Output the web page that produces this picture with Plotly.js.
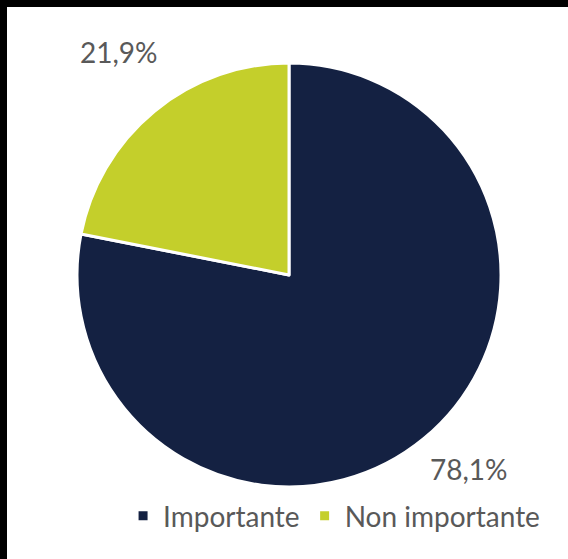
<!DOCTYPE html>
<html>
<head>
<meta charset="utf-8">
<script src="https://cdn.plot.ly/plotly-3.0.1.min.js"></script>
<style>
html, body { margin: 0; padding: 0; background: #000; width: 568px; height: 559px; overflow: hidden; }
#chart { position: absolute; left: 7px; top: 7px; width: 561px; height: 552px; background: #fff; }
</style>
</head>
<body>
<div id="chart"></div>
<script>
const categories = ["Importante", "Non importante"];
const values = [78.1, 21.9];
const colors = ["#142142", "#c4cf2b"];

function fmt(v) { return v.toFixed(1).replace('.', ',') + '%'; }

const trace = {
  type: 'pie',
  labels: categories,
  values: values,
  sort: false,
  direction: 'clockwise',
  rotation: 0,
  textinfo: 'none',
  hoverinfo: 'label+percent',
  marker: { colors: colors, line: { color: '#ffffff', width: 3 } },
  domain: { x: [0.1248, 0.8806], y: [0.1304, 0.8986] }
};

const labelPos = [
  { x: 0.8235, y: 0.163 },
  { x: 0.1996, y: 0.9185 }
];

const FONT = 'Lato, "Open Sans", sans-serif';

const layout = {
  width: 561,
  height: 552,
  margin: { l: 0, r: 0, t: 0, b: 0 },
  paper_bgcolor: '#ffffff',
  font: { family: FONT, color: '#595959', size: 28 },
  showlegend: true,
  legend: {
    orientation: 'h',
    x: 0.583, xanchor: 'center',
    y: 0.078, yanchor: 'middle',
    font: { family: FONT, size: 28, color: '#595959' },
    itemclick: false
  },
  annotations: values.map((v, i) => ({
    text: fmt(v),
    x: labelPos[i].x, y: labelPos[i].y,
    xref: 'paper', yref: 'paper',
    xanchor: 'center', yanchor: 'middle',
    showarrow: false,
    font: { family: FONT, size: 28, color: '#595959' }
  }))
};

Plotly.newPlot('chart', [trace], layout, { displayModeBar: false, staticPlot: true });
</script>
</body>
</html>
